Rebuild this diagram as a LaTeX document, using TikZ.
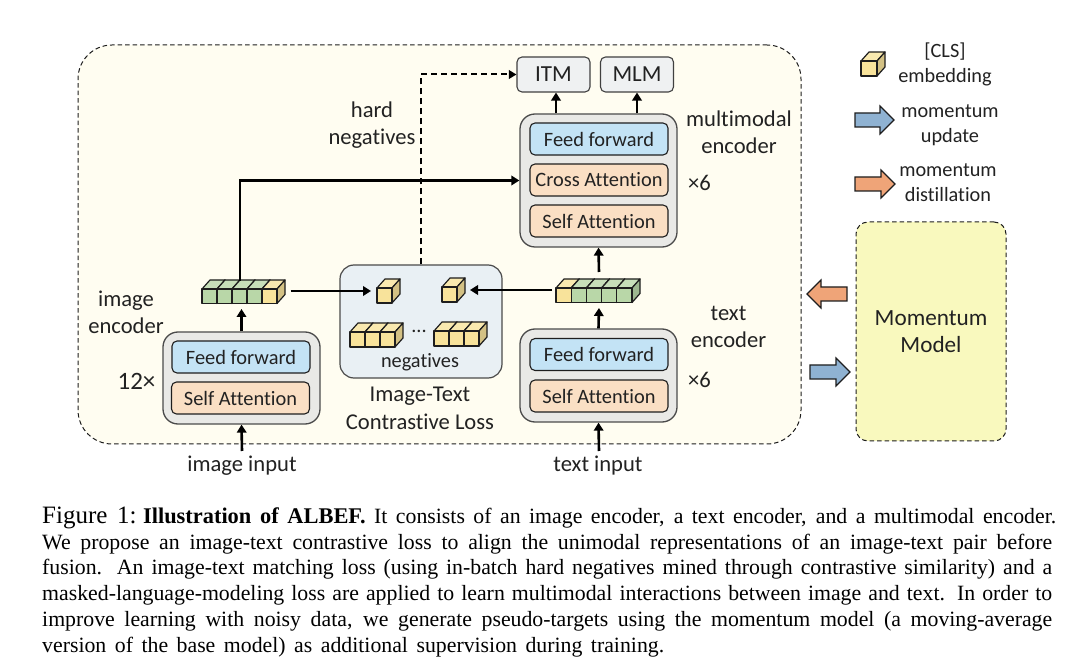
\documentclass[tikz,border=0pt]{standalone}
\usepackage{fontspec}
\setmainfont{Liberation Serif}
\newfontfamily\labelfont[Ligatures=NoCommon]{Carlito}
\usetikzlibrary{arrows.meta,calc}
\definecolor{lineK}{HTML}{1E1E1E}
\definecolor{labelK}{HTML}{222222}
\definecolor{outerbg}{HTML}{FFFDF1}
\definecolor{blockgray}{HTML}{E9E9E6}
\definecolor{ffblue}{HTML}{C3E3F5}
\definecolor{saorange}{HTML}{FADFC4}
\definecolor{ctrbox}{HTML}{E9F0F4}
\definecolor{hdbox}{HTML}{EFF1F2}
\definecolor{momfill}{HTML}{F9F9BE}
\definecolor{cubeyellow}{HTML}{F8E39B}
\definecolor{cubegreen}{HTML}{B9D7A8}
\definecolor{armblue}{HTML}{8FB2D2}
\definecolor{armorange}{HTML}{EFA478}
\tikzset{
  lab/.style={font=\labelfont\fontsize{22.6}{27}\selectfont,text=labelK,align=center,inner sep=0pt},
  smalllab/.style={font=\labelfont\fontsize{20.3}{24.5}\selectfont,text=labelK,align=center,inner sep=0pt},
  block/.style={draw=lineK,line width=1.1pt,rounded corners=5pt,inner sep=0pt,minimum width=138pt,minimum height=32pt,font=\labelfont\fontsize{20.4}{24}\selectfont,text=labelK},
  ffblock/.style={block,fill=ffblue},
  sablock/.style={block,fill=saorange},
  enc/.style={draw=lineK!80,line width=1.3pt,rounded corners=15pt,fill=blockgray,inner sep=0pt,minimum width=157pt},
  head/.style={draw=lineK!85,line width=1.1pt,rounded corners=5pt,fill=hdbox,inner sep=0pt,minimum width=73pt,minimum height=35pt,font=\labelfont\fontsize{23}{24}\selectfont,text=labelK},
  holder/.style={inner sep=0pt,outer sep=0pt},
  conn/.style={draw=black,line width=2.6pt,-{Triangle[length=8pt,width=9.5pt]}},
  dashconn/.style={draw=black,line width=2pt,dash pattern=on 6pt off 4pt,-{Triangle[length=7.5pt,width=8.5pt]}},
  cubeline/.style={draw=lineK,line width=1.2pt,line join=round},
  bigarrow/.style={draw=lineK,line width=1.1pt,line join=miter}
}
% x, y (front face top-left), w, h, colour
\newcommand{\tokcell}[5]{%
  \path[cubeline,fill=#5!80!white] (#1,#2) -- ++(8,-9) -- ++(#3,0) -- ++(-8,9) -- cycle;
  \path[cubeline,fill=#5!85!black] (#1+#3,#2) -- ++(8,-9) -- ++(0,#4) -- ++(-8,9) -- cycle;
  \path[cubeline,fill=#5] (#1,#2) rectangle ++(#3,#4);
}
\newcommand{\bigarr}[5]{%
  \path[bigarrow,fill=#4] (#1,#3-7) -- (#5,#3-7) -- (#5,#3-14) -- (#2,#3) -- (#5,#3+14) -- (#5,#3+7) -- (#1,#3+7) -- cycle;
}
\newcommand{\capline}[2]{\hbox to #1pt{\spaceskip=0pt\xspaceskip=0pt #2}}
\begin{document}
\begin{tikzpicture}[x=1pt,y=-1pt]
\useasboundingbox (0,0) rectangle (1080,668);
\fill[white] (0,0) rectangle (1080,668);

% main containers
\node[draw=lineK,line width=1pt,dash pattern=on 4.5pt off 3pt,rounded corners=34pt,fill=outerbg,inner sep=0pt,minimum width=723pt,minimum height=399pt] (main) at (439.5,244.5) {};
\node[draw=lineK,line width=1pt,dash pattern=on 4.5pt off 3pt,rounded corners=12pt,fill=momfill,inner sep=0pt,minimum width=150pt,minimum height=219pt,font=\labelfont\fontsize{23.2}{27}\selectfont,text=labelK,align=center] (mom) at (931,331.5) {Momentum\\Model};

% image encoder
\node[enc,minimum height=92pt] (imgenc) at (241.5,378) {};
\node[ffblock] (imgff) at (241,357) {Feed forward};
\node[sablock] (imgsa) at (240.5,398) {Self Attention};

% text encoder
\node[enc,minimum height=93pt] (txtenc) at (598.5,375.5) {};
\node[ffblock] (txtff) at (599,354.5) {Feed forward};
\node[sablock] (txtsa) at (599,396) {Self Attention};

% multimodal encoder
\node[enc,minimum height=133pt] (mmenc) at (598.5,180.5) {};
\node[ffblock] (mmff) at (599,139) {Feed forward};
\node[sablock] (mmca) at (599,180) {Cross Attention};
\node[sablock] (mmsa) at (599,221) {Self Attention};

% heads
\node[head] (itm) at (553.5,74.5) {ITM};
\node[head] (mlm) at (637,74.5) {MLM};

% contrastive box
\node[draw=lineK!80,line width=1.2pt,rounded corners=14pt,fill=ctrbox,inner sep=0pt,minimum width=162pt,minimum height=113pt] (ctr) at (421,321.5) {};

% token rows
\node[holder,minimum width=98pt,minimum height=36pt] (imgrow) at (241.5,291) {};
\coordinate (imgtop) at (240,281);
\foreach \i/\c in {0/cubegreen,1/cubegreen,2/cubegreen,3/cubegreen,4/cubeyellow}{\tokcell{202+15*\i}{289}{15}{14.5}{\c}}
\node[holder,minimum width=94pt,minimum height=36pt] (txtrow) at (599,290) {};
\foreach \i/\c in {0/cubeyellow,1/cubegreen,2/cubegreen,3/cubegreen,4/cubegreen}{\tokcell{556+15.2*\i}{288}{15.2}{14.5}{\c}}

% cubes in the contrastive box
\node[holder,minimum width=28pt,minimum height=30pt] (cubeL) at (385,291) {};
\tokcell{377}{288}{15}{15}{cubeyellow}
\node[holder,minimum width=28pt,minimum height=30pt] (cubeR) at (456,290) {};
\tokcell{442}{287}{15}{15}{cubeyellow}
\foreach \i in {0,1,2}{\tokcell{350+15*\i}{332}{15}{15}{cubeyellow}}
\foreach \i in {0,1,2}{\tokcell{434+15*\i}{331}{15}{15}{cubeyellow}}
\node[smalllab] (dots) at (419,331) {...};
\node[smalllab] (negs) at (420,362) {negatives};

% free ends
\coordinate (imginput) at (242,451);
\coordinate (txtinput) at (599,451);

% connectors
\draw[conn] (imginput) -- (imgenc.south);
\draw[conn] (txtinput) -- (txtenc.south);
\draw[conn] (imgenc.north) -- (imgrow.south);
\draw[conn] (txtenc.north) -- (txtrow.south);
\draw[conn] (txtrow.north) -- (mmenc.south);
\draw[conn] (imgtop) |- (mmenc.west);
\draw[conn] (imgrow.east) -- (cubeL.west);
\draw[conn] (txtrow.west) -- (cubeR.east);
\draw[conn] (mmenc.north -| itm) ++(2.5,0) coordinate (itmfoot) -- (itmfoot |- itm.south);
\draw[conn] (mmenc.north -| mlm) -- (mlm.south);
\draw[dashconn] (ctr.north) |- (itm.west);

% big arrows
\bigarr{847}{807}{294}{armorange}{821}
\bigarr{810}{850}{372}{armblue}{836}
\bigarr{855}{894}{120}{armblue}{880}
\bigarr{855}{895}{184}{armorange}{881}

% legend cube
\tokcell{861}{61}{16}{15}{cubeyellow}

% labels
\node[lab] (limg) at (126,312) {image\\encoder};
\node[lab,font=\labelfont\fontsize{25}{27}\selectfont] (l12) at (136.5,381) {12×};
\node[lab] (lhard) at (372,125) {hard\\negatives};
\node[lab] (lmm) at (739,132) {multimodal\\encoder};
\node[lab] (lx6a) at (699.5,183) {×6};
\node[lab] (ltxt) at (728.5,326.5) {text\\encoder};
\node[lab] (lx6b) at (699.5,380) {×6};
\node[lab] (linimg) at (242,465.5) {image input};
\node[lab] (lintxt) at (598,465.5) {text input};
\node[lab,font=\labelfont\fontsize{22.6}{28}\selectfont] (lctr) at (420,408) {Image-Text\\Contrastive Loss};
\node[smalllab] (lcls) at (945,64.5) {[CLS]\\embedding};
\node[smalllab] (lup) at (950,125) {momentum\\update};
\node[smalllab] (ldis) at (948,182.5) {momentum\\distillation};

% caption
\node[anchor=north west,inner sep=0pt,text width=1014pt,font=\fontsize{21.8}{25.8}\selectfont] (cap) at (42,506.5) {%
\capline{1014}{{\fontsize{25}{25.8}\selectfont Figure 1:}\kern-2pt\ {\fontsize{22.4}{25.8}\selectfont\textbf{Illustration of ALBEF.}} It consists of an image encoder, a text encoder, and a multimodal encoder.}
\capline{1010}{We propose an image-text contrastive loss to align the unimodal representations of an image-text pair before}
\capline{1010}{fusion. An image-text matching loss (using in-batch hard negatives mined through contrastive similarity) and a}
\capline{1010}{masked-language-modeling loss are applied to learn multimodal interactions between image and text. In order to}
\capline{1010}{improve learning with noisy data, we generate pseudo-targets using the momentum model (a moving-average}
\capline{622}{version of the base model) as additional supervision during training.}\par};
\end{tikzpicture}
\end{document}
